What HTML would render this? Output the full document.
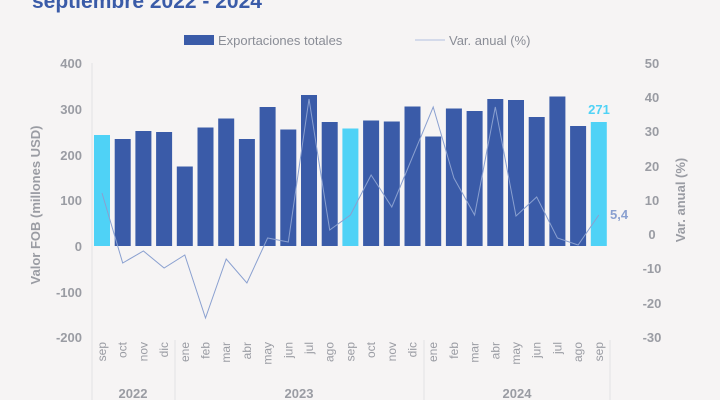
<!DOCTYPE html>
<html><head><meta charset="utf-8"><style>
body{margin:0;background:#f6f4f4;}
svg{display:block;font-family:"Liberation Sans",sans-serif;}
</style></head><body>
<svg width="720" height="400" viewBox="0 0 720 400">
<rect width="720" height="400" fill="#f6f4f4"/>
<text x="32" y="8" font-size="21" font-weight="bold" fill="#3a5ba8">septiembre 2022 - 2024</text>
<rect x="184" y="35" width="30" height="10" fill="#3a5ba8"/>
<text x="218" y="45" font-size="13" fill="#8a8d96">Exportaciones totales</text>
<line x1="415" y1="40" x2="445" y2="40" stroke="#c9d2e6" stroke-width="1.5"/>
<text x="449" y="45" font-size="13" fill="#8a8d96">Var. anual (%)</text>
<g stroke="#e2e2e4" stroke-width="1">
<line x1="92" y1="63" x2="92" y2="400"/>
<line x1="175" y1="340" x2="175" y2="400"/>
<line x1="424" y1="340" x2="424" y2="400"/>
<line x1="610" y1="340" x2="610" y2="400"/>
</g>
<g font-size="13" font-weight="bold" fill="#9a9ca3" text-anchor="end">
<text x="82" y="68">400</text><text x="82" y="114">300</text><text x="82" y="160">200</text>
<text x="82" y="205">100</text><text x="82" y="251">0</text><text x="82" y="297">-100</text><text x="82" y="342">-200</text>
</g>
<g font-size="13" font-weight="bold" fill="#9a9ca3" text-anchor="middle">
<text x="652" y="68">50</text><text x="652" y="102">40</text><text x="652" y="136">30</text>
<text x="652" y="171">20</text><text x="652" y="205">10</text><text x="652" y="239">0</text>
<text x="652" y="273">-10</text><text x="652" y="308">-20</text><text x="652" y="342">-30</text>
</g>
<text transform="translate(40,205) rotate(-90)" font-size="13" font-weight="bold" fill="#9a9ca3" text-anchor="middle">Valor FOB (millones USD)</text>
<text transform="translate(685,200) rotate(-90)" font-size="13" font-weight="bold" fill="#9a9ca3" text-anchor="middle">Var. anual (%)</text>
<g fill="#3a5ba8">
<rect x="94" y="135" width="16" height="111" fill="#4fd2f6"/>
<rect x="114.7" y="139" width="16" height="107"/>
<rect x="135.4" y="131" width="16" height="115"/>
<rect x="156.1" y="132" width="16" height="114"/>
<rect x="176.8" y="166.5" width="16" height="79.5"/>
<rect x="197.5" y="127.5" width="16" height="118.5"/>
<rect x="218.2" y="118.5" width="16" height="127.5"/>
<rect x="238.9" y="139" width="16" height="107"/>
<rect x="259.6" y="107" width="16" height="139"/>
<rect x="280.3" y="129.5" width="16" height="116.5"/>
<rect x="301" y="95" width="16" height="151"/>
<rect x="321.7" y="122" width="16" height="124"/>
<rect x="342.4" y="128.5" width="16" height="117.5" fill="#4fd2f6"/>
<rect x="363.1" y="120.5" width="16" height="125.5"/>
<rect x="383.8" y="121.5" width="16" height="124.5"/>
<rect x="404.5" y="106.5" width="16" height="139.5"/>
<rect x="425.2" y="136.5" width="16" height="109.5"/>
<rect x="445.9" y="108.5" width="16" height="137.5"/>
<rect x="466.6" y="111" width="16" height="135"/>
<rect x="487.3" y="99" width="16" height="147"/>
<rect x="508" y="100" width="16" height="146"/>
<rect x="528.7" y="117" width="16" height="129"/>
<rect x="549.4" y="96.5" width="16" height="149.5"/>
<rect x="570.1" y="126" width="16" height="120"/>
<rect x="590.8" y="122" width="16" height="124" fill="#4fd2f6"/>
</g>
<polyline fill="none" stroke="#8aa0d0" stroke-width="1" points="102,193 122.7,263 143.4,251 164.1,268 184.8,255 205.5,318 226.2,259 246.9,283 267.6,238 288.3,242 309,99 329.7,230 350.4,215 371.1,175 391.8,207 412.5,157 433.2,107 453.9,178 474.6,215 495.3,107 516,216 536.7,197 557.4,238 578.1,245 598.8,215"/>
<text x="599" y="114" font-size="13" font-weight="bold" fill="#4fd2f6" text-anchor="middle">271</text>
<text x="610" y="219" font-size="13" font-weight="bold" fill="#8aa0d0">5,4</text>
<g font-size="12" fill="#9a9ca3" text-anchor="end">
<text transform="translate(106,342) rotate(-90)">sep</text>
<text transform="translate(126.7,342) rotate(-90)">oct</text>
<text transform="translate(147.4,342) rotate(-90)">nov</text>
<text transform="translate(168.1,342) rotate(-90)">dic</text>
<text transform="translate(188.8,342) rotate(-90)">ene</text>
<text transform="translate(209.5,342) rotate(-90)">feb</text>
<text transform="translate(230.2,342) rotate(-90)">mar</text>
<text transform="translate(250.9,342) rotate(-90)">abr</text>
<text transform="translate(271.6,342) rotate(-90)">may</text>
<text transform="translate(292.3,342) rotate(-90)">jun</text>
<text transform="translate(313,342) rotate(-90)">jul</text>
<text transform="translate(333.7,342) rotate(-90)">ago</text>
<text transform="translate(354.4,342) rotate(-90)">sep</text>
<text transform="translate(375.1,342) rotate(-90)">oct</text>
<text transform="translate(395.8,342) rotate(-90)">nov</text>
<text transform="translate(416.5,342) rotate(-90)">dic</text>
<text transform="translate(437.2,342) rotate(-90)">ene</text>
<text transform="translate(457.9,342) rotate(-90)">feb</text>
<text transform="translate(478.6,342) rotate(-90)">mar</text>
<text transform="translate(499.3,342) rotate(-90)">abr</text>
<text transform="translate(520,342) rotate(-90)">may</text>
<text transform="translate(540.7,342) rotate(-90)">jun</text>
<text transform="translate(561.4,342) rotate(-90)">jul</text>
<text transform="translate(582.1,342) rotate(-90)">ago</text>
<text transform="translate(602.8,342) rotate(-90)">sep</text>
</g>
<g font-size="13" font-weight="bold" fill="#9a9ca3" text-anchor="middle">
<text x="133" y="398">2022</text><text x="299" y="398">2023</text><text x="517" y="398">2024</text>
</g>
</svg>
</body></html>
